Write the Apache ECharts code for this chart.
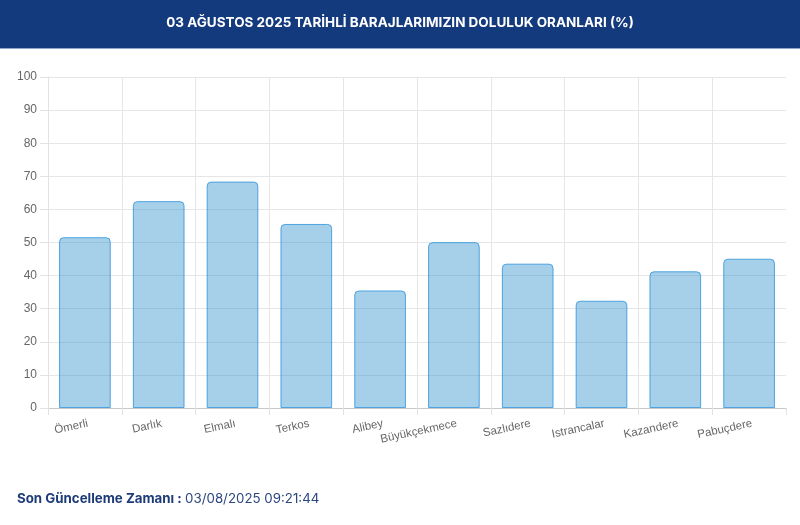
<!DOCTYPE html>
<html>
<head>
<meta charset="utf-8">
<script src="https://cdn.jsdelivr.net/npm/echarts@6/dist/echarts.min.js"></script>
<style>
html,body{margin:0;padding:0;background:#fff;}
#c{width:800px;height:525px;}
</style>
</head>
<body>
<div id="c"></div>
<script>
const titleText = "03 AĞUSTOS 2025 TARİHLİ BARAJLARIMIZIN DOLULUK ORANLARI (%)";
const categories = ["Ömerli","Darlık","Elmalı","Terkos","Alibey","Büyükçekmece","Sazlıdere","Istrancalar","Kazandere","Pabuçdere"];
const values = [51.6, 62.5, 68.4, 55.6, 35.5, 50.1, 43.6, 32.4, 41.3, 45.1];
const yTicks = [0,10,20,30,40,50,60,70,80,90,100];
const footerLabel = "Son Güncelleme Zamanı :";
const footerValue = "03/08/2025 09:21:44";

const chart = echarts.init(document.getElementById('c'));
chart.setOption({
  animation:false,
  backgroundColor:'#fff',
  graphic:[
    {type:'rect', left:0, top:0, shape:{width:800,height:48}, style:{fill:'#143a7e'}, z:0},
    {type:'rect', left:0, top:48, shape:{width:800,height:1}, style:{fill:'#8fa6cc'}, z:0},
    {type:'text', left:'center', top:16, style:{text:titleText, fill:'#fff', font:'bold 13.5px Inter, "Noto Sans", sans-serif'}, z:1},
    {type:'text', left:17, top:492, style:{
      text:'{a|'+footerLabel+'} {b|'+footerValue+'}',
      rich:{
        a:{fill:'#1d3b78', font:'bold 13.3px Inter, "Noto Sans", sans-serif'},
        b:{fill:'#2b4680', font:'13.3px Inter, "Noto Sans", sans-serif'}
      }
    }}
  ],
  grid:{left:48, right:14, top:77, bottom:117, containLabel:false},
  xAxis:{
    type:'category',
    data:categories,
    axisLine:{show:true, lineStyle:{color:'#c8c8c8', width:1}},
    axisTick:{show:true, length:7, lineStyle:{color:'#e2e2e2'}},
    splitLine:{show:true, showMaxLine:false, lineStyle:{color:'#e6e6e6'}},
    axisLabel:{rotate:12, color:'#666', fontSize:11.5, fontFamily:'"Liberation Sans", Arial, sans-serif', margin:16, interval:0, padding:[0,-3,0,0]}
  },
  yAxis:{
    type:'value', min:0, max:100, interval:10,
    axisLine:{show:true, lineStyle:{color:'#e2e2e2'}},
    axisTick:{show:true, length:8, lineStyle:{color:'#e2e2e2'}},
    splitLine:{show:true, lineStyle:{color:'#e6e6e6'}},
    axisLabel:{color:'#666', fontSize:12, fontFamily:'"Liberation Sans", Arial, sans-serif', margin:11,
      formatter:function(v){return yTicks.indexOf(v)>=0? String(v):'';}}
  },
  series:[{
    type:'bar',
    data:values,
    barWidth:'70%',
    itemStyle:{color:'rgba(57,148,208,0.45)', borderColor:'rgba(54,150,220,0.85)', borderWidth:1, borderRadius:[4,4,0,0]}
  }]
});
</script>
</body>
</html>
